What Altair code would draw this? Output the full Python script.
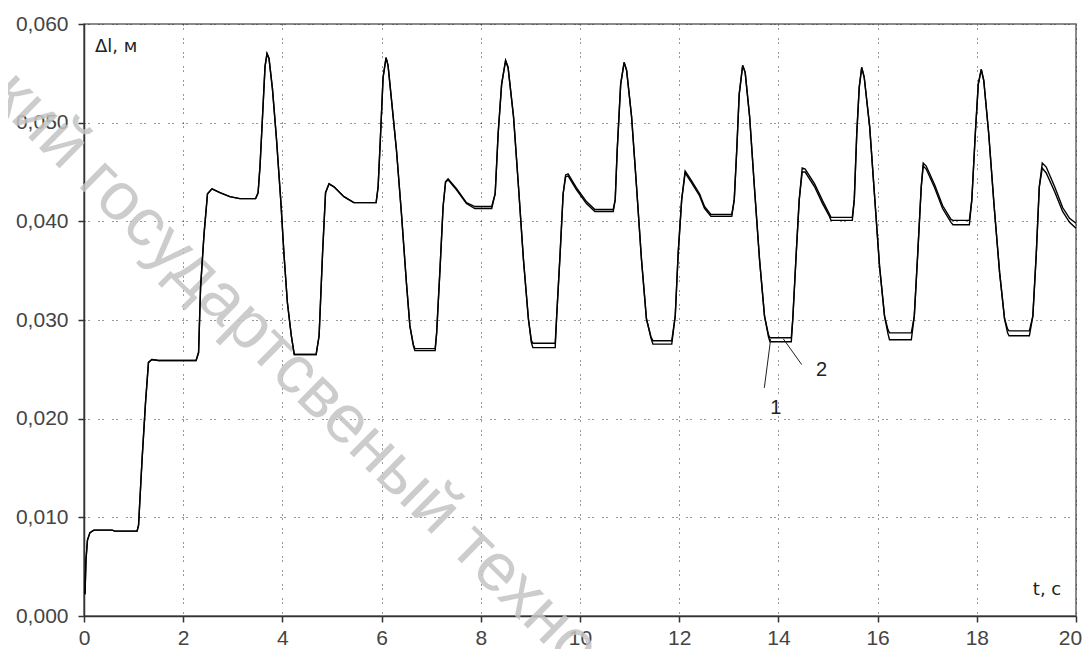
import altair as alt
import pandas as pd

# ---- data (t in s, Δl in mm) ----
t_s = [0.02, 0.04, 0.07, 0.12, 0.20, 0.57, 0.62, 1.07, 1.10, 1.17, 1.24, 1.30, 1.37, 1.50,
       2.26, 2.31, 2.35, 2.42, 2.49, 2.58, 2.74, 2.94, 3.14, 3.46, 3.51, 3.55, 3.60, 3.65,
       3.69, 3.73, 3.80, 3.88, 3.97, 4.03, 4.10, 4.18, 4.24, 4.68, 4.74, 4.81, 4.87, 4.94,
       5.04, 5.24, 5.44, 5.89, 5.93, 5.98, 6.03, 6.09, 6.13, 6.20, 6.30, 6.40, 6.50, 6.57,
       6.64, 6.67, 7.08, 7.11, 7.18, 7.24, 7.29, 7.34, 7.51, 7.71, 7.88, 8.22, 8.29, 8.35,
       8.42, 8.50, 8.55, 8.66, 8.76, 8.86, 8.96, 9.02, 9.05, 9.50, 9.53, 9.60, 9.66, 9.71,
       9.76, 9.93, 10.13, 10.30, 10.67, 10.71, 10.75, 10.82, 10.89, 10.94, 11.04, 11.14,
       11.24, 11.34, 11.43, 11.47, 11.85, 11.92, 11.98, 12.05, 12.12, 12.25, 12.41, 12.51,
       12.64, 13.06, 13.11, 13.16, 13.21, 13.28, 13.33, 13.42, 13.52, 13.62, 13.72, 13.80,
       13.83, 14.26, 14.29, 14.36, 14.42, 14.48, 14.54, 14.73, 14.89, 15.03, 15.06, 15.49,
       15.53, 15.58, 15.63, 15.68, 15.73, 15.84, 15.94, 16.04, 16.14, 16.21, 16.24, 16.68,
       16.74, 16.81, 16.88, 16.92, 16.98, 17.15, 17.31, 17.48, 17.52, 17.85, 17.90, 17.97,
       18.03, 18.09, 18.14, 18.24, 18.35, 18.46, 18.56, 18.62, 18.65, 19.06, 19.13, 19.20,
       19.26, 19.32, 19.40, 19.57, 19.73, 19.87, 20.00]

dl_1_mm = [2.2, 5.7, 7.7, 8.45, 8.7, 8.7, 8.6, 8.6, 9.2, 15.8, 21.6, 25.7, 26.0, 25.9,
           25.9, 26.7, 33.3, 38.7, 42.8, 43.3, 42.9, 42.5, 42.3, 42.3, 42.9, 45.7, 50.7, 55.7,
           57.0, 56.5, 53.4, 48.4, 41.9, 36.8, 31.8, 28.4, 26.5, 26.5, 28.4, 36.8, 42.9, 43.8,
           43.5, 42.5, 41.9, 41.9, 43.5, 48.9, 54.6, 56.6, 55.8, 52.3, 47.2, 40.8, 33.8, 29.4,
           27.4, 26.9, 26.9, 28.7, 35.4, 41.5, 44.0, 44.2, 43.2, 41.8, 41.3, 41.3, 42.8, 48.9,
           53.9, 56.3, 55.6, 50.6, 43.5, 36.1, 30.1, 27.7, 27.2, 27.2, 30.4, 36.8, 42.8, 44.5,
           44.6, 43.2, 41.8, 41.0, 41.0, 42.2, 47.2, 53.9, 56.1, 55.3, 50.6, 43.5,
           36.1, 30.1, 28.2, 27.55, 27.55, 30.4, 36.8, 42.2, 44.9, 43.9, 42.6, 41.3,
           40.5, 40.5, 42.2, 47.2, 52.9, 55.8, 55.1, 50.6, 43.2, 36.1, 30.4, 28.3,
           27.8, 27.8, 30.1, 36.8, 42.2, 45.0, 45.0, 43.5, 41.8, 40.5, 40.1, 40.1,
           42.2, 48.9, 53.6, 55.6, 54.6, 49.6, 42.5, 35.4, 30.4, 28.6, 28.0, 28.0,
           30.4, 36.8, 43.5, 45.6, 45.3, 43.4, 41.3, 39.9, 39.65, 39.65, 42.2, 48.9,
           53.9, 55.4, 54.3, 48.9, 41.5, 34.8, 30.1, 28.7, 28.4, 28.4, 30.4, 36.8,
           43.5, 45.4, 44.9, 43.0, 41.0, 39.9, 39.3]

dl_2_mm = [2.2, 5.7, 7.7, 8.45, 8.7, 8.7, 8.6, 8.6, 9.2, 15.8, 21.6, 25.7, 26.0, 25.9,
           25.9, 26.7, 33.3, 38.7, 42.8, 43.3, 42.9, 42.5, 42.3, 42.3, 42.9, 45.7, 50.7, 55.7,
           57.0, 56.5, 53.4, 48.4, 41.9, 36.8, 31.8, 28.4, 26.5, 26.5, 28.4, 36.8, 42.9, 43.8,
           43.5, 42.5, 41.9, 41.9, 43.5, 48.9, 54.6, 56.6, 55.8, 52.3, 47.2, 40.8, 33.8, 29.4,
           27.5, 27.1, 27.1, 28.7, 35.4, 41.5, 44.0, 44.3, 43.3, 41.9, 41.5, 41.5, 42.8, 48.9,
           53.9, 56.3, 55.6, 50.6, 43.5, 36.1, 30.1, 27.9, 27.65, 27.65, 30.4, 36.8, 42.8, 44.7,
           44.8, 43.4, 42.0, 41.2, 41.2, 42.2, 47.2, 53.9, 56.1, 55.3, 50.6, 43.5,
           36.1, 30.1, 28.3, 27.9, 27.9, 30.4, 36.8, 42.2, 45.1, 44.1, 42.8, 41.5,
           40.7, 40.7, 42.2, 47.2, 52.9, 55.8, 55.1, 50.6, 43.2, 36.1, 30.4, 28.5,
           28.2, 28.2, 30.1, 36.8, 42.2, 45.4, 45.3, 43.8, 42.1, 40.7, 40.4, 40.4,
           42.2, 48.9, 53.6, 55.6, 54.6, 49.6, 42.5, 35.4, 30.4, 29.0, 28.7, 28.7,
           30.4, 36.8, 43.5, 45.9, 45.6, 43.7, 41.6, 40.2, 40.1, 40.1, 42.2, 48.9,
           53.9, 55.4, 54.3, 48.9, 41.5, 34.8, 30.1, 29.1, 28.9, 28.9, 30.4, 36.8,
           43.5, 45.9, 45.5, 43.5, 41.4, 40.3, 39.8]

x_ticks = list(range(0, 21, 2))
y_ticks = [0.0, 0.01, 0.02, 0.03, 0.04, 0.05, 0.06]

# curve labels and their leader lines
lab_text = ["1", "2"]
lab_t = [13.95, 14.87]
lab_dl = [0.02113, 0.02489]
lead_t1 = [13.716, 14.099]
lead_dl1 = [0.02312, 0.02809]
lead_t2 = [13.845, 14.470]
lead_dl2 = [0.02809, 0.02548]

# ---- tables ----
rows = []
for name, vals in (("2", dl_2_mm), ("1", dl_1_mm)):
    for i, (t, v) in enumerate(zip(t_s, vals)):
        rows.append({"t": t, "dl": v / 1000.0, "series": name, "order": i})
curves = pd.DataFrame(rows)
labels = pd.DataFrame({"t": lab_t, "dl": lab_dl, "text": lab_text})
leaders = pd.DataFrame({"t": lead_t1, "dl": lead_dl1, "t2": lead_t2, "dl2": lead_dl2})

FONT = "DejaVu Sans"
TICKFONT = "Liberation Sans"
xs = alt.Scale(domain=[0, 20], nice=False, zero=False)
ys = alt.Scale(domain=[0, 0.06], nice=False)

x_axis = alt.Axis(values=x_ticks, title=None, grid=True, gridDash=[1, 3, 1, 9],
                  gridColor="#333", gridWidth=1, labelFont=TICKFONT, labelFontSize=21,
                  labelColor="#444", tickSize=6, tickColor="#333", tickWidth=1.5,
                  domainColor="#333", domainWidth=1.5, labelPadding=5,
                  labelOffset={"expr": "datum.value == 20 ? -6 : 0"},
                  labelFlush=False, labelOverlap=False, labelBound=False)
y_axis = alt.Axis(values=y_ticks, title=None, grid=True, gridDash=[1, 3, 1, 9],
                  gridColor="#333", gridWidth=1, labelFont=TICKFONT, labelFontSize=21,
                  labelColor="#444", tickSize=6, tickColor="#333", tickWidth=1.5,
                  domainColor="#333", domainWidth=1.5, labelPadding=10,
                  format=".3f", labelExpr="replace(datum.label, '.', ',')",
                  labelFlush=False, labelOverlap=False)

wm = alt.Chart(pd.DataFrame({"t": [4.25], "dl": [0.0248],
                             "text": ["кий государтсвеный техно"]})).mark_text(
    font="Liberation Sans", fontSize=68, angle=44.5, align="center", baseline="middle",
    color="#c4c4c4", opacity=0.85
).encode(x=alt.X("t:Q", scale=xs, axis=x_axis), y=alt.Y("dl:Q", scale=ys, axis=y_axis),
         text="text:N")

lines = alt.Chart(curves).mark_line(color="black", strokeWidth=1.4).encode(
    x=alt.X("t:Q", scale=xs, axis=x_axis),
    y=alt.Y("dl:Q", scale=ys, axis=y_axis),
    detail="series:N",
    order="order:Q",
)

lead = alt.Chart(leaders).mark_rule(color="#222", strokeWidth=1).encode(
    x=alt.X("t:Q", scale=xs), y=alt.Y("dl:Q", scale=ys), x2="t2:Q", y2="dl2:Q")

lab = alt.Chart(labels).mark_text(font=TICKFONT, fontSize=20, color="#222",
                                  align="center", baseline="middle").encode(
    x=alt.X("t:Q", scale=xs), y=alt.Y("dl:Q", scale=ys), text="text:N")

ylab = alt.Chart(pd.DataFrame({"t": [0.22], "dl": [0.05765], "text": ["Δl, м"]})).mark_text(
    font=FONT, fontSize=18, color="#222", align="left", baseline="middle").encode(
    x=alt.X("t:Q", scale=xs), y=alt.Y("dl:Q", scale=ys), text="text:N")

xlab = alt.Chart(pd.DataFrame({"t": [19.13], "dl": [0.00268], "text": ["t, с"]})).mark_text(
    font=FONT, fontSize=18, color="#222", align="left", baseline="middle").encode(
    x=alt.X("t:Q", scale=xs), y=alt.Y("dl:Q", scale=ys), text="text:N")

chart = alt.layer(wm, lines, lead, lab, ylab, xlab).properties(
    width=992, height=592,
    autosize=alt.AutoSizeParams(type="none"),
    padding={"left": 76, "top": 16, "right": 6, "bottom": 33},
    background="white",
).configure_view(stroke="#666", strokeWidth=1.5)

chart.save("out.html", embed_options={"renderer": "svg", "actions": False})
